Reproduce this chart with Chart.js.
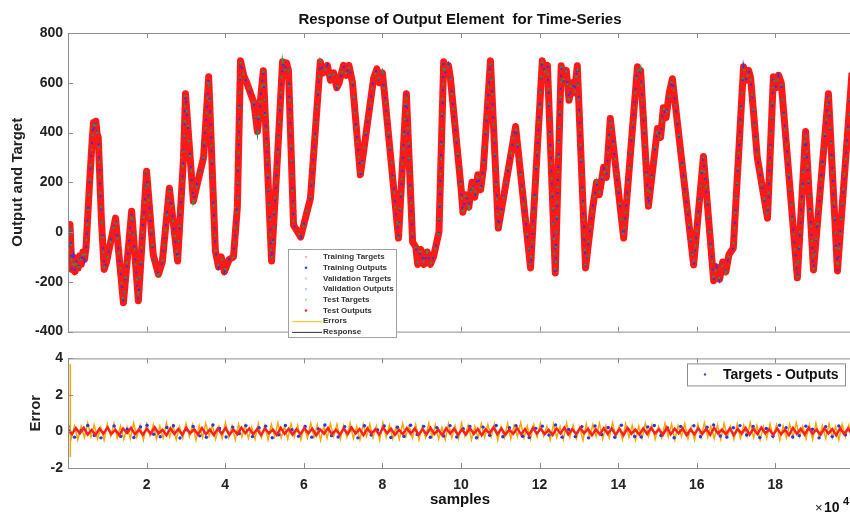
<!DOCTYPE html>
<html>
<head>
<meta charset="utf-8">
<script src="https://cdn.jsdelivr.net/npm/chart.js@4.4.1/dist/chart.umd.min.js"></script>
<style>
body { margin: 0; background: #fff; width: 850px; height: 515px; overflow: hidden; position: relative; }
#top { position: absolute; left: 0; top: 0; }
#bot { position: absolute; left: 0; top: 345px; }
</style>
</head>
<body>
<canvas id="top" width="852" height="345"></canvas>
<canvas id="bot" width="852" height="170"></canvas>
<script>
// samples (x) and output/target (y)
const sampleIdx = [0, 500, 1000, 1400, 1800, 2200, 2600, 3000, 3400, 3800, 4200, 4600, 5500, 6200, 6500, 6800, 7100, 7400, 7700,
  8500, 9200, 9800, 12100, 14100, 16200, 17900, 20000, 21700, 23000, 24000, 25800, 27900, 29400, 29900, 31900, 33000, 34500,
  35800, 37500, 38300, 39000, 39800, 41000, 42100, 43100, 43900, 44700, 45500, 46400, 47300, 48200, 49700, 51800, 53300,
  54600, 55100, 55600, 56100, 57400, 59200, 61700, 64200, 65000, 66000, 66800, 67600, 68400, 69000, 70100, 70800, 71500,
  72400, 74400, 77800, 78600, 79300, 80000, 80400, 84100, 86100, 87700, 88500, 89000, 89800, 90600, 91400, 92200, 93000,
  94400, 95600, 96200, 96800, 97300, 100000, 100500, 101200, 102000, 102800, 103500, 104300, 105000, 105700, 107500,
  109500, 113900, 117700, 120700, 121300, 122000, 124000, 125500, 126200, 126800, 127500, 128200, 128900, 129600, 131700,
  133500, 134500, 135200, 136300, 137000, 138000, 141400, 144900, 145300, 145700, 147700, 150000, 150800, 151500, 152200,
  153000, 153800, 159200, 161700, 164300, 165000, 165800, 166600, 167400, 168200, 169300, 171900, 172600, 173200, 173700,
  175400, 178000, 179500, 180200, 180800, 181500, 185600, 187700, 189700, 193500, 195800, 199500];
const targetVals = [-110, 30, -150, -100, -160, -110, -145, -95, -130, -80, -110, -60, 200, 380, 440, 400, 445, 395, 380,
  50, -150, -120, 56, -284, 84, -276, 244, -92, -170, -120, 176, -116, 300, 556, 124, 200, 300,
  624, -76, -140, -100, -160, -110, -100, 100, 688, 630, 600, 560, 520, 404, 648, -116, 300,
  684, 640, 680, 650, 28, -20, 136, 684, 640, 670, 610, 640, 580, 600, 670, 630, 670,
  600, 230, 620, 656, 600, 640, 580, -24, 556, -40, -60, -130, -70, -130, -80, -130, -100,
  0, 684, 630, 670, 620, 180, 80, 150, 100, 200, 140, 230, 170, 256, 688,
  16, 424, -144, 688, 640, 670, -164, 668, 600, 650, 530, 600, 560, 668, -144,
  96, 200, 150, 260, 220, 456, -24, 664, 620, 650, 104, 416, 380, 500, 460,
  560, 616, -132, 304, -196, -140, -190, -120, -160, -90, -64, 664, 610, 650, 620,
  300, 56, 624, 580, 630, 600, -184, 404, -152, 556, -156, 640];

// error panel values (targets - outputs)
const errSpike = [-1.4, 3.7];
const errOrange = [0.42, -0.38, 0.31, -0.45, 0.28, -0.33, 0.47, -0.29, 0.36, -0.41, 0.22, -0.48, 0.39, -0.27, 0.44, -0.35, 0.3, -0.43, 0.25, -0.39,
  0.46, -0.31, 0.34, -0.46, 0.41, -0.24, 0.37, -0.4, 0.29, -0.36, 0.48, -0.3, 0.33, -0.44, 0.26, -0.37, 0.43, -0.28, 0.38, -0.47,
  0.32, -0.34, 0.45, -0.26, 0.35, -0.42, 0.27, -0.39, 0.49, -0.32, 0.3, -0.45, 0.4, -0.29, 0.36, -0.38, 0.24, -0.43, 0.44, -0.33,
  0.31, -0.46, 0.39, -0.27, 0.47, -0.35, 0.28, -0.41, 0.42, -0.3, 0.34, -0.44, 0.26, -0.37, 0.46, -0.32, 0.37, -0.48, 0.29, -0.36,
  0.43, -0.25, 0.4, -0.42, 0.33, -0.3, 0.45, -0.39, 0.27, -0.45, 0.38, -0.28, 0.41, -0.34, 0.3, -0.47, 0.48, -0.31, 0.35, -0.4,
  0.25, -0.43, 0.44, -0.27, 0.32, -0.38, 0.39, -0.46, 0.29, -0.33, 0.46, -0.29, 0.36, -0.41, 0.23, -0.44, 0.42, -0.35, 0.31, -0.39,
  0.47, -0.26, 0.34, -0.45, 0.28, -0.37, 0.43, -0.32, 0.38, -0.29, 0.41, -0.47, 0.26, -0.35, 0.45, -0.4, 0.33, -0.28, 0.49, -0.36,
  0.3, -0.42, 0.37, -0.31, 0.44, -0.25, 0.29, -0.46, 0.4, -0.34, 0.27, -0.43, 0.46, -0.3, 0.35, -0.39, 0.24, -0.48, 0.41, -0.33,
  0.38, -0.27, 0.45, -0.41, 0.31, -0.36, 0.48, -0.29, 0.26, -0.44, 0.42, -0.32, 0.34, -0.47, 0.29, -0.38, 0.44, -0.26, 0.37, -0.42,
  0.27, -0.35, 0.46, -0.3, 0.4, -0.45, 0.32, -0.28, 0.43, -0.39, 0.25, -0.46, 0.39, -0.33, 0.47, -0.31, 0.3, -0.4, 0.36, -0.44,
  0.44, -0.29, 0.28, -0.43, 0.41, -0.37, 0.35, -0.26, 0.48, -0.34, 0.33, -0.45, 0.26, -0.38, 0.42, -0.3, 0.37, -0.47, 0.31, -0.35,
  0.4, -0.32, 0.47, -0.28, 0.29, -0.41, 0.36, -0.44, 0.45, -0.27, 0.32, -0.39, 0.43, -0.33, 0.28, -0.46, 0.39, -0.3, 0.34, -0.42];
const errBlue = [0.28, -0.31, 0.05, 0.33, -0.22, -0.35, 0.18, 0.3, -0.27, 0.12, -0.33, 0.25, 0.34, -0.15, -0.29, 0.22, 0.31, -0.36, 0.09, 0.27,
  -0.24, -0.32, 0.35, 0.16, -0.3, 0.24, -0.12, 0.32, -0.28, 0.2, 0.29, -0.34, -0.18, 0.33, 0.1, -0.26, 0.27, -0.31, 0.14, 0.35,
  -0.23, -0.3, 0.26, 0.19, -0.35, 0.31, -0.2, 0.08, 0.3, -0.33, 0.23, -0.27, 0.34, -0.16, 0.28, -0.32, 0.21, -0.25, 0.32, -0.3,
  0.15, 0.27, -0.34, 0.24, -0.21, 0.33, -0.29, 0.2, 0.31, -0.26, -0.33, 0.17, 0.29, -0.2, 0.35, -0.31, 0.11, -0.28, 0.26, -0.35,
  0.3, -0.17, 0.22, -0.32, 0.34, 0.13, -0.27, -0.3, 0.25, 0.33, -0.22, 0.19, -0.34, 0.28, -0.14, 0.31, -0.29, 0.23, 0.35, -0.25,
  -0.31, 0.2, 0.32, -0.19, 0.27, -0.33, 0.16, -0.26, 0.34, 0.21, -0.3, -0.23, 0.29, 0.12, -0.35, 0.26, -0.28, 0.3, -0.18, 0.33];
const errRed = [0.12, -0.15, 0.18, -0.1, 0.2, -0.17, 0.08, -0.19, 0.15, -0.12, 0.21, -0.14, 0.1, -0.2, 0.16, -0.09, 0.19, -0.16, 0.11, -0.18,
  0.14, -0.13, 0.22, -0.11, 0.09, -0.21, 0.17, -0.14, 0.13, -0.19, 0.2, -0.1, 0.12, -0.17, 0.18, -0.15, 0.1, -0.2, 0.15, -0.12,
  0.19, -0.18, 0.11, -0.14, 0.21, -0.09, 0.16, -0.16, 0.13, -0.2, 0.17, -0.11, 0.1, -0.19, 0.2, -0.13, 0.14, -0.17, 0.12, -0.15,
  0.18, -0.1, 0.15, -0.21, 0.11, -0.12, 0.19, -0.16, 0.09, -0.18, 0.16, -0.14, 0.2, -0.11, 0.13, -0.2, 0.17, -0.13, 0.12, -0.17,
  0.21, -0.1, 0.14, -0.19, 0.1, -0.15, 0.18, -0.12, 0.16, -0.18, 0.13, -0.16, 0.2, -0.14, 0.09, -0.21, 0.17, -0.11, 0.15, -0.19,
  0.11, -0.17, 0.19, -0.13, 0.14, -0.2, 0.12, -0.1, 0.22, -0.15, 0.16, -0.18, 0.1, -0.13, 0.18, -0.16, 0.13, -0.21, 0.2, -0.12,
  0.15, -0.14, 0.09, -0.19, 0.17, -0.11, 0.21, -0.17, 0.12, -0.15, 0.19, -0.1, 0.14, -0.2, 0.11, -0.16, 0.18, -0.13, 0.16, -0.18,
  0.13, -0.21, 0.2, -0.12, 0.1, -0.17, 0.16, -0.14, 0.19, -0.11, 0.12, -0.19, 0.21, -0.15, 0.15, -0.1, 0.17, -0.2, 0.11, -0.16,
  0.18, -0.13, 0.14, -0.18, 0.2, -0.11, 0.1, -0.16, 0.17, -0.2, 0.13, -0.12, 0.19, -0.17, 0.15, -0.14, 0.21, -0.1, 0.12, -0.19,
  0.16, -0.15, 0.11, -0.2, 0.19, -0.13, 0.14, -0.17, 0.2, -0.12, 0.1, -0.18, 0.17, -0.11, 0.13, -0.21, 0.18, -0.14, 0.15, -0.16];

const xTicks = [20000, 40000, 60000, 80000, 100000, 120000, 140000, 160000, 180000];
const legendLabels = ['Training Targets', 'Training Outputs', 'Validation Targets', 'Validation Outputs',
  'Test Targets', 'Test Outputs', 'Errors', 'Response'];
const legendColors = ['#f0b6c6', '#3346d6', '#ddd3ec', '#c4cfe6', '#bcdcae', '#ff2a2a', '#f2c200', '#333'];

const X_MAX = 199500;
const FONT = '"Liberation Sans", Arial, sans-serif';

function spread(vals) {
  const step = X_MAX / (vals.length - 1);
  return vals.map((v, i) => ({ x: i * step, y: v }));
}
const trace = sampleIdx.map((s, i) => ({ x: s, y: targetVals[i] }));

const axisBox = {
  id: 'axisBox',
  afterDatasetsDraw(chart) {
    const { ctx, chartArea: { left, top, right, bottom }, scales: { x, y } } = chart
    ctx.save()
    ctx.strokeStyle = '#8c8c8c'
    ctx.lineWidth = 1
    ctx.strokeRect(left + 0.5, top + 0.5, right - left, bottom - top)
    ctx.beginPath()
    xTicks.forEach(v => {
      const px = Math.round(x.getPixelForValue(v)) + 0.5
      ctx.moveTo(px, top); ctx.lineTo(px, top + 5)
      ctx.moveTo(px, bottom); ctx.lineTo(px, bottom - 5)
    })
    y.ticks.forEach(t => {
      const py = Math.round(y.getPixelForValue(t.value)) + 0.5
      ctx.moveTo(left, py); ctx.lineTo(left + 5, py)
    })
    ctx.stroke()
    ctx.restore()
  }
}

const topLegend = {
  id: 'topLegend',
  afterDraw(chart) {
    const { ctx, chartArea: { left, top } } = chart
    const x0 = left + 220, y0 = top + 216
    ctx.save()
    ctx.fillStyle = '#fff'
    ctx.fillRect(x0, y0, 108, 88)
    ctx.strokeStyle = '#a0a0a0'
    ctx.lineWidth = 1
    ctx.strokeRect(x0 + 0.5, y0 + 0.5, 108, 88)
    ctx.font = 'bold 8px ' + FONT
    ctx.textBaseline = 'middle'
    legendLabels.forEach((lab, i) => {
      const yy = y0 + 8 + i * 10.7
      ctx.strokeStyle = legendColors[i]
      ctx.fillStyle = legendColors[i]
      if (i >= 6) {
        ctx.lineWidth = 1
        ctx.beginPath(); ctx.moveTo(x0 + 4, yy + 0.5); ctx.lineTo(x0 + 34, yy + 0.5); ctx.stroke()
      } else {
        ctx.beginPath(); ctx.arc(x0 + 18, yy, 1.3, 0, Math.PI * 2); ctx.fill()
      }
      ctx.fillStyle = '#333'
      ctx.fillText(lab, x0 + 35, yy)
    })
    ctx.restore()
  }
}

const botLegend = {
  id: 'botLegend',
  afterDraw(chart) {
    const { ctx, chartArea: { right, top } } = chart
    const x0 = right - 165, y0 = top + 5
    ctx.save()
    ctx.fillStyle = '#fff'
    ctx.fillRect(x0, y0, 158, 22)
    ctx.strokeStyle = '#8c8c8c'
    ctx.lineWidth = 1
    ctx.strokeRect(x0 + 0.5, y0 + 0.5, 158, 22)
    ctx.fillStyle = '#3346d6'
    ctx.beginPath(); ctx.arc(x0 + 18, y0 + 11, 1.2, 0, Math.PI * 2); ctx.fill()
    ctx.fillStyle = '#111'
    ctx.font = 'bold 14px ' + FONT
    ctx.textBaseline = 'middle'
    ctx.fillText('Targets - Outputs', x0 + 36, y0 + 11.5)
    // exponent of the x axis
    ctx.textBaseline = 'alphabetic'
    ctx.font = '13px ' + FONT
    ctx.fillText('×', 815, 167)
    ctx.font = 'bold 14px ' + FONT
    ctx.fillText('10', 824, 167)
    ctx.font = 'bold 11px ' + FONT
    ctx.fillText('4', 843, 160)
    ctx.restore()
  }
}

new Chart(document.getElementById('top'), {
  type: 'line',
  data: {
    datasets: [{
      label: 'Test Outputs',
      data: trace,
      borderColor: '#ff1a1a',
      borderWidth: 7,
      borderJoinStyle: 'round',
      order: 3
    }, {
      label: 'Training Outputs',
      data: trace,
      borderColor: '#2438e8',
      borderWidth: 2,
      borderDash: [2, 11],
      order: 2
    }, {
      label: 'Training Targets',
      data: trace,
      borderColor: '#1f9e4a',
      borderWidth: 2,
      borderDash: [2, 13],
      borderDashOffset: 6,
      order: 1
    }]
  },
  options: {
    responsive: false,
    animation: false,
    elements: { point: { radius: 0 }, line: { tension: 0 } },
    layout: { autoPadding: false, padding: { left: 0, right: 0, top: 0, bottom: 11 } },
    scales: {
      x: { type: 'linear', display: false, min: 0, max: X_MAX },
      y: {
        min: -400, max: 800,
        grid: { display: false, drawTicks: false },
        border: { display: false },
        ticks: { stepSize: 200, padding: 5, color: '#222', font: { family: FONT, size: 14, weight: 'bold' } },
        title: { display: true, text: 'Output and Target', color: '#222', padding: { top: 9 }, font: { family: FONT, size: 15, weight: 'bold' } },
        afterFit(scale) { scale.width = 68 }
      }
    },
    plugins: {
      legend: { display: false },
      tooltip: { enabled: false },
      title: {
        display: true,
        fullSize: false,
        text: 'Response of Output Element  for Time-Series',
        color: '#111',
        padding: { top: 11, bottom: 4 },
        font: { family: FONT, size: 15, weight: 'bold' }
      }
    }
  },
  plugins: [axisBox, topLegend]
});

new Chart(document.getElementById('bot'), {
  type: 'line',
  data: {
    datasets: [{
      label: 'Targets - Outputs',
      data: spread(errRed),
      borderColor: '#ff2020',
      borderWidth: 2.5,
      order: 1
    }, {
      label: 'Training',
      data: spread(errBlue),
      showLine: false,
      pointRadius: 1.7,
      pointBackgroundColor: '#2438e8',
      pointBorderWidth: 0,
      order: 2
    }, {
      label: 'Errors',
      data: spread(errOrange),
      borderColor: '#f4a800',
      borderWidth: 1.5,
      order: 3
    }, {
      label: 'Start',
      data: errSpike.map(v => ({ x: 600, y: v })),
      borderColor: '#f4a800',
      borderWidth: 1.5,
      order: 4
    }]
  },
  options: {
    responsive: false,
    animation: false,
    elements: { point: { radius: 0 }, line: { tension: 0 } },
    layout: { autoPadding: false, padding: { left: 0, right: 0, top: 13, bottom: 0 } },
    scales: {
      x: {
        type: 'linear', min: 0, max: X_MAX,
        grid: { display: false, drawTicks: false },
        border: { display: false },
        afterBuildTicks(scale) { scale.ticks = xTicks.map(v => ({ value: v })) },
        ticks: {
          padding: 9, autoSkip: false, maxRotation: 0,
          color: '#222', font: { family: FONT, size: 14, weight: 'bold' },
          callback: v => v / 10000
        },
        title: { display: true, text: 'samples', color: '#111', padding: { top: 0, bottom: 6 }, font: { family: FONT, size: 15, weight: 'bold' } },
        afterFit(scale) {
          scale.height = 47
          scale.paddingLeft = 0
          scale.paddingRight = 0
        }
      },
      y: {
        min: -2, max: 4,
        grid: { display: false, drawTicks: false },
        border: { display: false },
        ticks: { stepSize: 2, padding: 5, color: '#222', font: { family: FONT, size: 14, weight: 'bold' } },
        title: { display: true, text: 'Error', color: '#222', padding: { top: 27 }, font: { family: FONT, size: 15, weight: 'bold' } },
        afterFit(scale) { scale.width = 68 }
      }
    },
    plugins: {
      legend: { display: false },
      tooltip: { enabled: false }
    }
  },
  plugins: [axisBox, botLegend]
});
</script>
</body>
</html>
